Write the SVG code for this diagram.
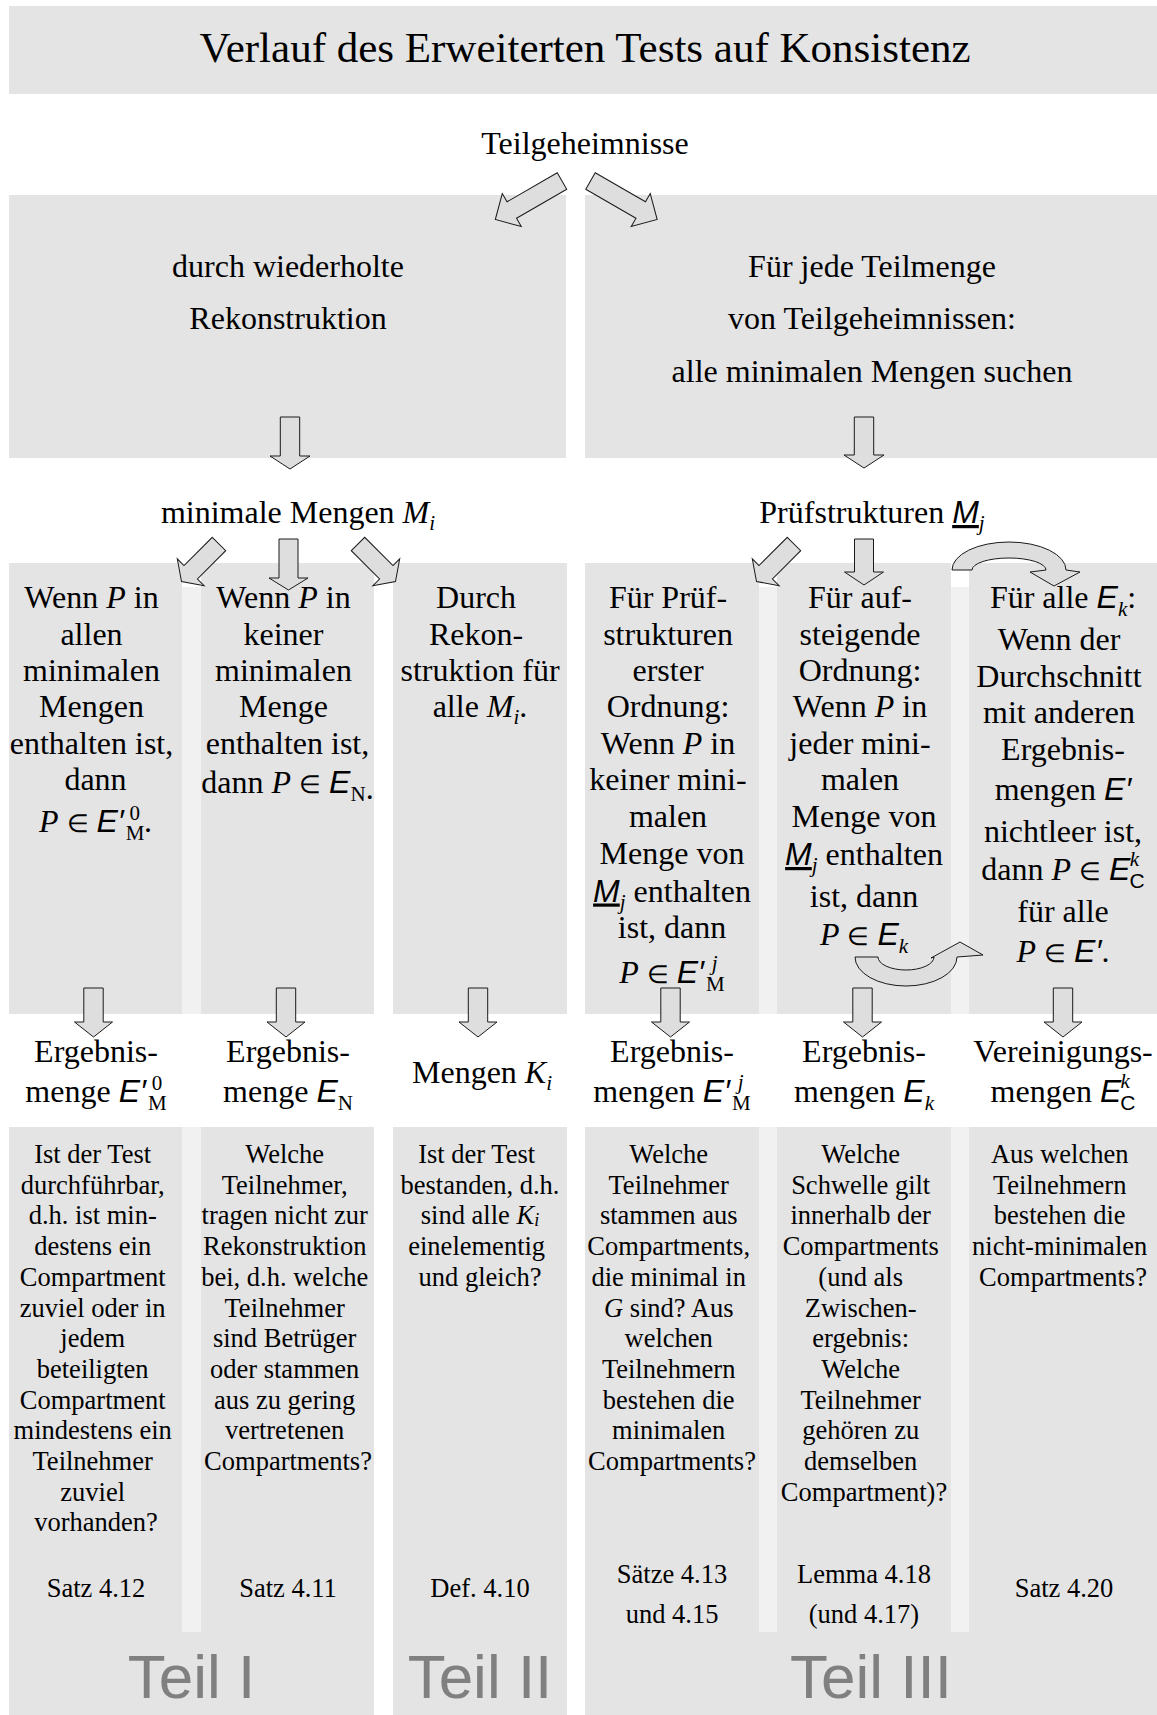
<svg xmlns="http://www.w3.org/2000/svg" width="1157" height="1715" viewBox="0 0 1157 1715">
<style>
.bg{fill:#e4e4e4}
.st{fill:#f1f1f1}
text{font-family:"Liberation Serif","Times New Roman",serif;fill:#000;text-anchor:middle}
.f43{font-size:43px}
.f32{font-size:32px}
.f26{font-size:26.5px}
.i{font-style:italic}
.s{font-family:"Liberation Sans",Arial,sans-serif;font-style:italic}
.su{font-family:"Liberation Sans",Arial,sans-serif;font-style:normal}
.sb{font-size:21px}
.el{font-size:25px}
.u{text-decoration:underline}
.teil{font-family:"Liberation Sans",Arial,sans-serif;font-size:62px;fill:#808080}
.ar{fill:#dedede;stroke:#1a1a1a;stroke-width:1}
</style>

<g id="strips">
<rect class="st" x="182" y="587" width="19" height="427"/>
<rect class="st" x="759" y="587" width="18" height="427"/>
<rect class="st" x="951" y="587" width="18" height="427"/>
</g>

<g id="title">
<rect class="bg" x="9" y="6" width="1148" height="88"/>
<text class="f43" x="585" y="62">Verlauf des Erweiterten Tests auf Konsistenz</text>
</g>

<g id="teilgeheimnisse">
<text class="f32" x="585" y="154">Teilgeheimnisse</text>
</g>

<g id="rekonstruktion">
<rect class="bg" x="9" y="195" width="557" height="263"/>
<text class="f32"><tspan x="288" y="277">durch wiederholte</tspan><tspan x="288" y="329">Rekonstruktion</tspan></text>
</g>

<g id="teilmenge">
<rect class="bg" x="585" y="195" width="572" height="263"/>
<text class="f32"><tspan x="872" y="277">Für jede Teilmenge</tspan><tspan x="872" y="329">von Teilgeheimnissen:</tspan><tspan x="872" y="382">alle minimalen Mengen suchen</tspan></text>
</g>

<g id="minimale-mengen">
<text class="f32" x="298" y="523">minimale Mengen <tspan class="i">M</tspan><tspan class="i sb" dy="7">i</tspan></text>
</g>

<g id="pruefstrukturen">
<text class="f32" x="872" y="523">Prüfstrukturen <tspan class="s u">M</tspan><tspan class="i sb" dy="7">j</tspan></text>
</g>

<g id="col1-mid">
<rect class="bg" x="9" y="563" width="173" height="451"/>
<text class="f32">
<tspan x="95.5" y="608">Wenn <tspan class="i">P</tspan> in</tspan>
<tspan x="95.5" y="644.5">allen</tspan>
<tspan x="95.5" y="681">minimalen</tspan>
<tspan x="95.5" y="717">Mengen</tspan>
<tspan x="95.5" y="753.5">enthalten ist,</tspan>
<tspan x="95.5" y="790">dann</tspan>
</text>
<text class="f32" x="95.5" y="832"><tspan class="i">P</tspan> <tspan class="el">∈</tspan> <tspan class="s">E′</tspan><tspan class="sb" dx="2" dy="8">M</tspan><tspan class="sb" dx="-15" dy="-20">0</tspan><tspan dx="4" dy="12">.</tspan></text>
</g>

<g id="col2-mid">
<rect class="bg" x="201" y="563" width="173" height="451"/>
<text class="f32">
<tspan x="287.5" y="608">Wenn <tspan class="i">P</tspan> in</tspan>
<tspan x="287.5" y="644.5">keiner</tspan>
<tspan x="287.5" y="681">minimalen</tspan>
<tspan x="287.5" y="717">Menge</tspan>
<tspan x="287.5" y="753.5">enthalten ist,</tspan>
</text>
<text class="f32" x="287.5" y="793">dann <tspan class="i">P</tspan> <tspan class="el">∈</tspan> <tspan class="s">E</tspan><tspan class="sb" dy="8">N</tspan><tspan dy="-2">.</tspan></text>
</g>

<g id="col3-mid">
<rect class="bg" x="393" y="563" width="174" height="451"/>
<text class="f32">
<tspan x="480" y="608">Durch</tspan>
<tspan x="480" y="644.5">Rekon-</tspan>
<tspan x="480" y="681">struktion für</tspan>
</text>
<text class="f32" x="480" y="717">alle <tspan class="i">M</tspan><tspan class="i sb" dy="7">i</tspan><tspan dy="-7">.</tspan></text>
</g>

<g id="col4-mid">
<rect class="bg" x="585" y="563" width="174" height="451"/>
<text class="f32">
<tspan x="672" y="608">Für Prüf-</tspan>
<tspan x="672" y="644.5">strukturen</tspan>
<tspan x="672" y="681">erster</tspan>
<tspan x="672" y="717">Ordnung:</tspan>
<tspan x="672" y="753.5">Wenn <tspan class="i">P</tspan> in</tspan>
<tspan x="672" y="790">keiner mini-</tspan>
<tspan x="672" y="827">malen</tspan>
<tspan x="672" y="863.5">Menge von</tspan>
</text>
<text class="f32" x="672" y="901.5"><tspan class="s u">M</tspan><tspan class="i sb" dy="7">j</tspan><tspan dy="-7"> enthalten</tspan></text>
<text class="f32" x="672" y="938">ist, dann</text>
<text class="f32" x="672" y="983"><tspan class="i">P</tspan> <tspan class="el">∈</tspan> <tspan class="s">E′</tspan><tspan class="sb" dx="2" dy="8">M</tspan><tspan class="i sb" dx="-13" dy="-21">j</tspan></text>
</g>

<g id="col5-mid">
<rect class="bg" x="777" y="563" width="174" height="451"/>
<text class="f32">
<tspan x="864" y="608">Für auf-</tspan>
<tspan x="864" y="644.5">steigende</tspan>
<tspan x="864" y="681">Ordnung:</tspan>
<tspan x="864" y="717">Wenn <tspan class="i">P</tspan> in</tspan>
<tspan x="864" y="753.5">jeder mini-</tspan>
<tspan x="864" y="790">malen</tspan>
<tspan x="864" y="827">Menge von</tspan>
</text>
<text class="f32" x="864" y="865"><tspan class="s u">M</tspan><tspan class="i sb" dy="7">j</tspan><tspan dy="-7"> enthalten</tspan></text>
<text class="f32" x="864" y="907">ist, dann</text>
<text class="f32" x="864" y="945"><tspan class="i">P</tspan> <tspan class="el">∈</tspan> <tspan class="s">E</tspan><tspan class="i sb" dy="8">k</tspan></text>
</g>

<g id="col6-mid">
<rect class="bg" x="969" y="563" width="188" height="451"/>
<text class="f32" x="1063" y="608">Für alle <tspan class="s">E</tspan><tspan class="i sb" dy="8">k</tspan><tspan dy="-8">:</tspan></text>
<text class="f32">
<tspan x="1063" y="650">Wenn der</tspan>
<tspan x="1063" y="687">Durchschnitt</tspan>
<tspan x="1063" y="723">mit anderen</tspan>
<tspan x="1063" y="760">Ergebnis-</tspan>
</text>
<text class="f32" x="1063" y="800">mengen <tspan class="s">E′</tspan></text>
<text class="f32" x="1063" y="842">nichtleer ist,</text>
<text class="f32" x="1063" y="880">dann <tspan class="i">P</tspan> <tspan class="el">∈</tspan> <tspan class="s">E</tspan><tspan class="su sb" dx="-1" dy="8">C</tspan><tspan class="i sb" dx="-15" dy="-22">k</tspan></text>
<text class="f32" x="1063" y="922">für alle</text>
<text class="f32" x="1063" y="962"><tspan class="i">P</tspan> <tspan class="el">∈</tspan> <tspan class="s">E′</tspan>.</text>
</g>

<g id="ergebnis-1">
<text class="f32" x="96" y="1062">Ergebnis-</text>
<text class="f32" x="96" y="1102">menge <tspan class="s">E′</tspan><tspan class="sb" dx="2" dy="8">M</tspan><tspan class="sb" dx="-15" dy="-20">0</tspan></text>
</g>
<g id="ergebnis-2">
<text class="f32" x="288" y="1062">Ergebnis-</text>
<text class="f32" x="288" y="1102">menge <tspan class="s">E</tspan><tspan class="sb" dy="8">N</tspan></text>
</g>
<g id="ergebnis-3">
<text class="f32" x="482" y="1083">Mengen <tspan class="i">K</tspan><tspan class="i sb" dy="7">i</tspan></text>
</g>
<g id="ergebnis-4">
<text class="f32" x="672" y="1062">Ergebnis-</text>
<text class="f32" x="672" y="1102">mengen <tspan class="s">E′</tspan><tspan class="sb" dx="2" dy="8">M</tspan><tspan class="i sb" dx="-13" dy="-21">j</tspan></text>
</g>
<g id="ergebnis-5">
<text class="f32" x="864" y="1062">Ergebnis-</text>
<text class="f32" x="864" y="1102">mengen <tspan class="s">E</tspan><tspan class="i sb" dy="8">k</tspan></text>
</g>
<g id="ergebnis-6">
<text class="f32" x="1063" y="1062">Vereinigungs-</text>
<text class="f32" x="1063" y="1102">mengen <tspan class="s">E</tspan><tspan class="su sb" dx="-1" dy="8">C</tspan><tspan class="i sb" dx="-15" dy="-22">k</tspan></text>
</g>

<g id="teil-1">
<rect class="bg" x="9" y="1127" width="365" height="588"/>
<rect class="st" x="182" y="1127" width="19" height="505"/>
<text class="f26">
<tspan x="96" y="1163">Ist der Test</tspan>
<tspan x="96" dy="30.7">durchführbar,</tspan>
<tspan x="96" dy="30.7">d.h. ist min-</tspan>
<tspan x="96" dy="30.7">destens ein</tspan>
<tspan x="96" dy="30.7">Compartment</tspan>
<tspan x="96" dy="30.7">zuviel oder in</tspan>
<tspan x="96" dy="30.7">jedem</tspan>
<tspan x="96" dy="30.7">beteiligten</tspan>
<tspan x="96" dy="30.7">Compartment</tspan>
<tspan x="96" dy="30.7">mindestens ein</tspan>
<tspan x="96" dy="30.7">Teilnehmer</tspan>
<tspan x="96" dy="30.7">zuviel</tspan>
<tspan x="96" dy="30.7">vorhanden?</tspan>
</text>
<text class="f26" x="96" y="1597">Satz 4.12</text>
<text class="f26">
<tspan x="288" y="1163">Welche</tspan>
<tspan x="288" dy="30.7">Teilnehmer,</tspan>
<tspan x="288" dy="30.7">tragen nicht zur</tspan>
<tspan x="288" dy="30.7">Rekonstruktion</tspan>
<tspan x="288" dy="30.7">bei, d.h. welche</tspan>
<tspan x="288" dy="30.7">Teilnehmer</tspan>
<tspan x="288" dy="30.7">sind Betrüger</tspan>
<tspan x="288" dy="30.7">oder stammen</tspan>
<tspan x="288" dy="30.7">aus zu gering</tspan>
<tspan x="288" dy="30.7">vertretenen</tspan>
<tspan x="288" dy="30.7">Compartments?</tspan>
</text>
<text class="f26" x="288" y="1597">Satz 4.11</text>
<text class="teil" x="191.5" y="1698">Teil I</text>
</g>

<g id="teil-2">
<rect class="bg" x="393" y="1127" width="174" height="588"/>
<text class="f26">
<tspan x="480" y="1163">Ist der Test</tspan>
<tspan x="480" dy="30.7">bestanden, d.h.</tspan>
</text>
<text class="f26" x="480" y="1224.4">sind alle <tspan class="i">K</tspan><tspan class="i" style="font-size:18px" dy="2">i</tspan></text>
<text class="f26">
<tspan x="480" y="1255.1">einelementig</tspan>
<tspan x="480" dy="30.7">und gleich?</tspan>
</text>
<text class="f26" x="480" y="1597">Def. 4.10</text>
<text class="teil" x="480" y="1698">Teil II</text>
</g>

<g id="teil-3">
<rect class="bg" x="585" y="1127" width="572" height="588"/>
<rect class="st" x="759" y="1127" width="18" height="505"/>
<rect class="st" x="951" y="1127" width="18" height="505"/>
<text class="f26">
<tspan x="672" y="1163">Welche</tspan>
<tspan x="672" dy="30.7">Teilnehmer</tspan>
<tspan x="672" dy="30.7">stammen aus</tspan>
<tspan x="672" dy="30.7">Compartments,</tspan>
<tspan x="672" dy="30.7">die minimal in</tspan>
<tspan x="672" dy="30.7"><tspan class="i">G</tspan> sind? Aus</tspan>
<tspan x="672" dy="30.7">welchen</tspan>
<tspan x="672" dy="30.7">Teilnehmern</tspan>
<tspan x="672" dy="30.7">bestehen die</tspan>
<tspan x="672" dy="30.7">minimalen</tspan>
<tspan x="672" dy="30.7">Compartments?</tspan>
</text>
<text class="f26"><tspan x="672" y="1583">Sätze 4.13</tspan><tspan x="672" y="1623">und 4.15</tspan></text>
<text class="f26">
<tspan x="864" y="1163">Welche</tspan>
<tspan x="864" dy="30.7">Schwelle gilt</tspan>
<tspan x="864" dy="30.7">innerhalb der</tspan>
<tspan x="864" dy="30.7">Compartments</tspan>
<tspan x="864" dy="30.7">(und als</tspan>
<tspan x="864" dy="30.7">Zwischen-</tspan>
<tspan x="864" dy="30.7">ergebnis:</tspan>
<tspan x="864" dy="30.7">Welche</tspan>
<tspan x="864" dy="30.7">Teilnehmer</tspan>
<tspan x="864" dy="30.7">gehören zu</tspan>
<tspan x="864" dy="30.7">demselben</tspan>
<tspan x="864" dy="30.7">Compartment)?</tspan>
</text>
<text class="f26"><tspan x="864" y="1583">Lemma 4.18</tspan><tspan x="864" y="1623">(und 4.17)</tspan></text>
<text class="f26">
<tspan x="1063" y="1163">Aus welchen</tspan>
<tspan x="1063" dy="30.7">Teilnehmern</tspan>
<tspan x="1063" dy="30.7">bestehen die</tspan>
<tspan x="1063" dy="30.7">nicht-minimalen</tspan>
<tspan x="1063" dy="30.7">Compartments?</tspan>
</text>
<text class="f26" x="1064" y="1597">Satz 4.20</text>
<text class="teil" x="871" y="1698">Teil III</text>
</g>

<g id="connectors">
<path class="ar" transform="translate(562,181) rotate(60)" d="M-9.5,0 L9.5,0 L9.5,58 L19,58 L0,77 L-19,58 L-9.5,58 Z"/>
<path class="ar" transform="translate(590.5,181) rotate(-60)" d="M-9.5,0 L9.5,0 L9.5,58 L19,58 L0,77 L-19,58 L-9.5,58 Z"/>
<path class="ar" transform="translate(290,417)" d="M-9.7,0 L9.7,0 L9.7,39 L20,39 L0,52 L-20,39 L-9.7,39 Z"/>
<path class="ar" transform="translate(864,417)" d="M-9.7,0 L9.7,0 L9.7,38 L20,38 L0,51 L-20,38 L-9.7,38 Z"/>
<path class="ar" transform="translate(219,544) rotate(45)" d="M-9.5,0 L9.5,0 L9.5,40 L19,40 L0,53 L-19,40 L-9.5,40 Z"/>
<path class="ar" transform="translate(288.5,539)" d="M-9.5,0 L9.5,0 L9.5,39 L19.5,39 L0,51 L-19.5,39 L-9.5,39 Z"/>
<path class="ar" transform="translate(358,544) rotate(-45)" d="M-9.5,0 L9.5,0 L9.5,40 L19,40 L0,53 L-19,40 L-9.5,40 Z"/>
<path class="ar" transform="translate(794,544) rotate(45)" d="M-9.5,0 L9.5,0 L9.5,40 L19,40 L0,53 L-19,40 L-9.5,40 Z"/>
<path class="ar" transform="translate(864,539)" d="M-9.5,0 L9.5,0 L9.5,33 L19.5,33 L0,46 L-19.5,33 L-9.5,33 Z"/>
<path class="ar" d="M952,570 A57,28 0 0 1 1066,570 L1080,572 L1054,586 L1030,572 L1046,570 A37,12 0 0 0 972,570 Z"/>
<path class="ar" d="M855,957 A51,29 0 0 0 957,957 L983,955 L960,942 L931,958 L934,957 A28,13 0 0 1 878,957 Z"/>
<path class="ar" transform="translate(93.5,988)" d="M-9.7,0 L9.7,0 L9.7,34 L19,34 L0,49 L-19,34 L-9.7,34 Z"/>
<path class="ar" transform="translate(286,988)" d="M-9.7,0 L9.7,0 L9.7,34 L19,34 L0,49 L-19,34 L-9.7,34 Z"/>
<path class="ar" transform="translate(478,988)" d="M-9.7,0 L9.7,0 L9.7,34 L19,34 L0,49 L-19,34 L-9.7,34 Z"/>
<path class="ar" transform="translate(670.5,988)" d="M-9.7,0 L9.7,0 L9.7,34 L19,34 L0,49 L-19,34 L-9.7,34 Z"/>
<path class="ar" transform="translate(862.5,988)" d="M-9.7,0 L9.7,0 L9.7,34 L19,34 L0,49 L-19,34 L-9.7,34 Z"/>
<path class="ar" transform="translate(1063,988)" d="M-9.7,0 L9.7,0 L9.7,34 L19,34 L0,49 L-19,34 L-9.7,34 Z"/>
</g>
</svg>
